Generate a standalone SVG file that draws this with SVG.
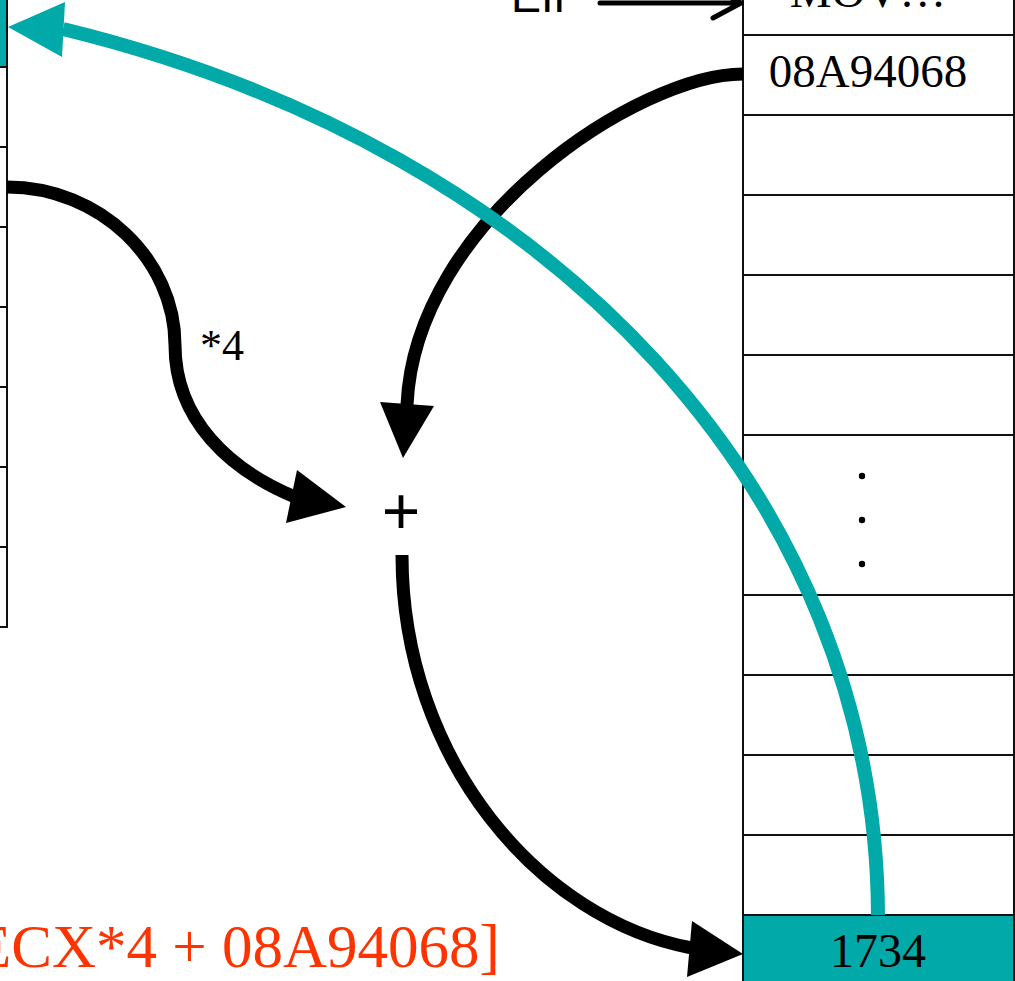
<svg xmlns="http://www.w3.org/2000/svg" width="1015" height="981" viewBox="0 0 1015 981">
<style>
.cell{fill:#fff;stroke:#111;stroke-width:2}
.hot{fill:#02a9a9;stroke:#111;stroke-width:2}
.serif{font-family:"Liberation Serif","Times New Roman",serif;fill:#000}
.sans{font-family:"Liberation Sans",Arial,sans-serif;fill:#000}
.blk{fill:none;stroke:#000;stroke-width:13}
.teal{fill:none;stroke:#02a9a9;stroke-width:14}
.head{fill:#000}
.theadc{fill:#02a9a9}
</style>
<rect width="1015" height="981" fill="#fff"/>
<g id="left-column">
<rect class="hot" x="-100" y="-13" width="107" height="80"/>
<rect class="cell" x="-100" y="67" width="107" height="80"/>
<rect class="cell" x="-100" y="147" width="107" height="80"/>
<rect class="cell" x="-100" y="227" width="107" height="80"/>
<rect class="cell" x="-100" y="307" width="107" height="80"/>
<rect class="cell" x="-100" y="387" width="107" height="80"/>
<rect class="cell" x="-100" y="467" width="107" height="80"/>
<rect class="cell" x="-100" y="547" width="107" height="80"/>
</g>
<g id="memory-column">
<rect class="cell" x="743" y="-45" width="271" height="80"/>
<text class="serif" x="868" y="7" font-size="47" text-anchor="middle">MOV…</text>
<rect class="cell" x="743" y="35" width="271" height="80"/>
<text class="serif" x="868" y="87" font-size="47" text-anchor="middle">08A94068</text>
<rect class="cell" x="743" y="115" width="271" height="80"/>
<rect class="cell" x="743" y="195" width="271" height="80"/>
<rect class="cell" x="743" y="275" width="271" height="80"/>
<rect class="cell" x="743" y="355" width="271" height="80"/>
<rect class="cell" x="743" y="435" width="271" height="160"/>
<circle cx="862" cy="476" r="3.2"/>
<circle cx="862" cy="520" r="3.2"/>
<circle cx="862" cy="564" r="3.2"/>
<rect class="cell" x="743" y="595" width="271" height="80"/>
<rect class="cell" x="743" y="675" width="271" height="80"/>
<rect class="cell" x="743" y="755" width="271" height="80"/>
<rect class="cell" x="743" y="835" width="271" height="80"/>
<rect class="hot" x="743" y="915" width="271" height="80"/>
<text class="serif" x="878" y="967" font-size="48" text-anchor="middle">1734</text>
</g>
<g id="eip-label">
<text class="sans" x="511" y="12" font-size="45">EIP</text>
</g>
<g id="plus-node">
<text class="sans" x="401" y="534" font-size="66" text-anchor="middle">+</text>
</g>
<g id="scale-label">
<text class="serif" x="200" y="360" font-size="44">*4</text>
</g>
<g id="expression">
<text class="serif" x="-26" y="967" font-size="61" style="fill:#ff3300">ECX*4 + 08A94068]</text>
</g>
<g id="connectors">
<path d="M600,3 H741 M741,3 L713,18 M741,3 L713,-12" fill="none" stroke="#000" stroke-width="5" stroke-linecap="round"/>
<path class="blk" d="M7,187 C100,187 175,260 175,345 C175,420 230,470 295,497"/>
<polygon class="head" points="346,507 297,470 286,523"/>
<path class="blk" d="M743,74 C640,74 415,220 407,405"/>
<polygon class="head" points="403,458 380,402 434,406"/>
<path class="blk" d="M402,555 C402,760 540,920 692,948"/>
<polygon class="head" points="743,954 692,921 687,977"/>
<path class="teal" d="M878,915 C876,500 560,150 63,29"/>
<polygon class="theadc" points="8,27 65,2 62,57"/>
</g>
</svg>
